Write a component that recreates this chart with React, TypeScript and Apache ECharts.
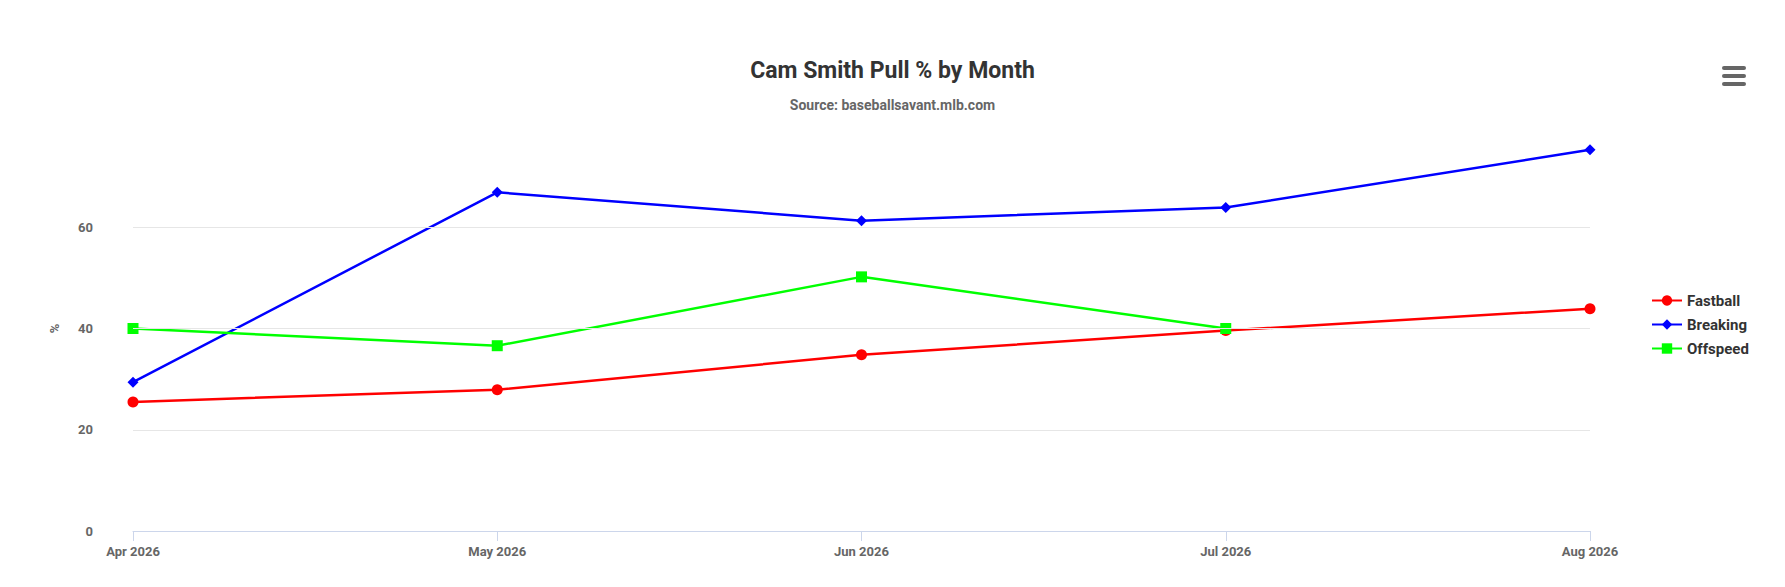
import React, { useEffect, useRef } from 'react';
import * as echarts from 'echarts';

const months = ['Apr 2026', 'May 2026', 'Jun 2026', 'Jul 2026', 'Aug 2026'];
const fastball = [25.5, 27.9, 34.8, 39.6, 43.9];
const breaking = [29.4, 66.9, 61.3, 63.9, 75.3];
const offspeed: (number | null)[] = [40.0, 36.6, 50.2, 40.0, null];
const gridLevels = [20, 40, 60];

const font = 'Roboto, "Liberation Sans", sans-serif';

const App: React.FC = () => {
  const chartRef = useRef<HTMLDivElement>(null);

  useEffect(() => {
    if (!chartRef.current) return;
    const chart = echarts.init(chartRef.current, null, { renderer: 'svg' });

    const line = (name: string, data: (number | null)[], color: string, symbol: string, size: number) => ({
      name,
      type: 'line',
      data,
      symbol,
      symbolSize: size,
      lineStyle: { color, width: 2.5 },
      itemStyle: { color },
      z: 3,
    });

    chart.setOption({
      animation: false,
      textStyle: { fontFamily: font },
      title: {
        text: 'Cam Smith Pull % by Month',
        subtext: 'Source: baseballsavant.mlb.com',
        left: 'center',
        top: 46,
        itemGap: 16,
        textStyle: { fontSize: 23, fontWeight: 'bold', color: '#333', fontFamily: font },
        subtextStyle: { fontSize: 14, fontWeight: 'bold', color: '#666', fontFamily: font },
      },
      legend: {
        orient: 'vertical',
        left: 1638,
        top: 280,
        itemGap: 9,
        itemWidth: 30,
        itemHeight: 13,
        textStyle: { fontSize: 15, fontWeight: 'bold', color: '#333', fontFamily: font },
        data: ['Fastball', 'Breaking', 'Offspeed'],
      },
      grid: { left: 125, right: 187, top: 118, bottom: 48 },
      xAxis: {
        type: 'category',
        data: months,
        boundaryGap: false,
        axisLine: { lineStyle: { color: '#ccd6eb' } },
        axisTick: { alignWithLabel: true, length: 10, lineStyle: { color: '#ccd6eb' } },
        axisLabel: { fontSize: 13, fontWeight: 'bold', color: '#666', margin: 14 },
      },
      yAxis: {
        type: 'value',
        min: 0,
        max: 80,
        interval: 20,
        name: '%',
        nameLocation: 'middle',
        nameGap: 72,
        nameRotate: 90,
        nameTextStyle: { fontSize: 13, fontWeight: 'bold', color: '#666' },
        splitLine: { show: false },
        axisLabel: {
          fontSize: 13,
          fontWeight: 'bold',
          color: '#666',
          margin: 40,
          showMaxLabel: false,
        },
      },
      series: [
        {
          ...line('Fastball', fastball, '#ff0000', 'circle', 11),
          markLine: {
            silent: true,
            symbol: 'none',
            label: { show: false },
            lineStyle: { color: '#e6e6e6', width: 1, type: 'solid' },
            data: gridLevels.map((v) => ({ yAxis: v })),
          },
        },
        line('Breaking', breaking, '#0000ff', 'diamond', 11),
        line('Offspeed', offspeed, '#00ff00', 'rect', 11),
      ],
      graphic: [0, 8, 16].map((dy) => ({
        type: 'rect',
        left: 1714,
        top: 58 + dy,
        shape: { width: 24, height: 4, r: 2 },
        style: { fill: '#666' },
      })),
    });

    return () => chart.dispose();
  }, []);

  return <div ref={chartRef} style={{ width: 1769, height: 571 }} />;
};

export default App;
